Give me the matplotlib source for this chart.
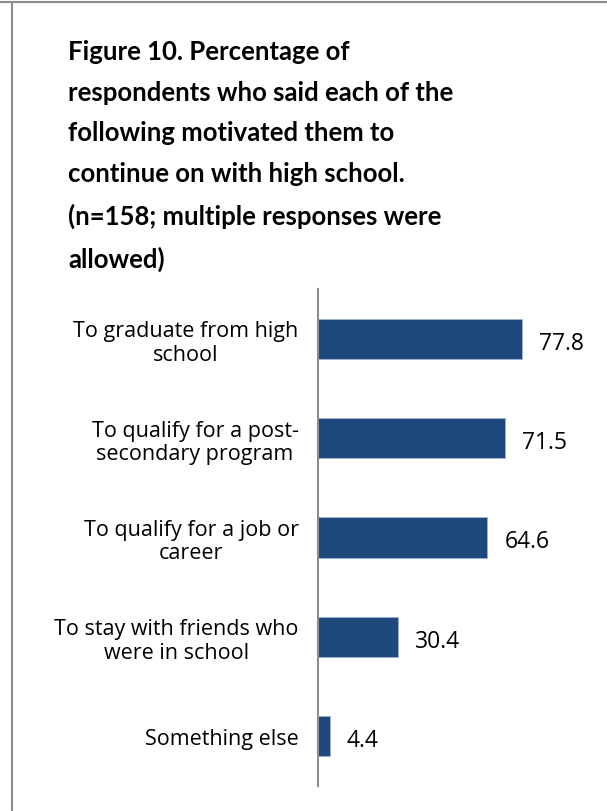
import matplotlib
matplotlib.use("Agg")
import matplotlib.pyplot as plt
from matplotlib.lines import Line2D

motivos = [
    "To graduate from high\nschool",
    "To qualify for a post-\nsecondary program",
    "To qualify for a job or\ncareer",
    "To stay with friends who\nwere in school",
    "Something else",
]
porcentajes = [77.8, 71.5, 64.6, 30.4, 4.4]

titulo = ("Figure 10. Percentage of\n"
          "respondents who said each of the\n"
          "following motivated them to\n"
          "continue on with high school.\n"
          "(n=158; multiple responses were\n"
          "allowed)")

plt.rcParams['font.family'] = ['Lato', 'DejaVu Sans']

fig = plt.figure(figsize=(6.07, 8.12), dpi=100)

# marco gris (arriba e izquierda)
fig.add_artist(Line2D([0, 1], [0.9968, 0.9968], color='#8c8c8c', lw=1.5,
                      transform=fig.transFigure))
fig.add_artist(Line2D([12 / 607, 12 / 607], [0, 0.9968], color='#8c8c8c', lw=1.5,
                      transform=fig.transFigure))

fig.text(68 / 607, 1 - 40 / 812, titulo, ha='left', va='top',
         fontsize=18.5, fontweight='bold', linespacing=1.83, color='black')

ax = fig.add_axes([318 / 607, 25 / 812, 262 / 607, 497 / 812])

posiciones = list(range(len(motivos)))
ax.barh(posiciones, porcentajes, height=0.405, color='#1F497D',
        edgecolor='#9DB3CF', linewidth=0.6)

for p, v in zip(posiciones, porcentajes):
    ax.text(v + 6.5, p + 0.04, f"{v:.1f}", ha='left', va='center',
            fontsize=16.5, family='Open Sans')

ax.set_xlim(0, 100)
ax.set_ylim(4.5, -0.5)
ax.set_yticks(posiciones)
ax.set_yticklabels(motivos, fontsize=15.5, family='Open Sans',
                   multialignment='center', linespacing=1.15)
ax.tick_params(axis='y', length=0, pad=14)
ax.set_xticks([])

for lado in ['top', 'right', 'bottom']:
    ax.spines[lado].set_visible(False)
ax.spines['left'].set_color('#8c8c8c')
ax.spines['left'].set_linewidth(1.5)

plt.savefig('out.png', dpi=100)
